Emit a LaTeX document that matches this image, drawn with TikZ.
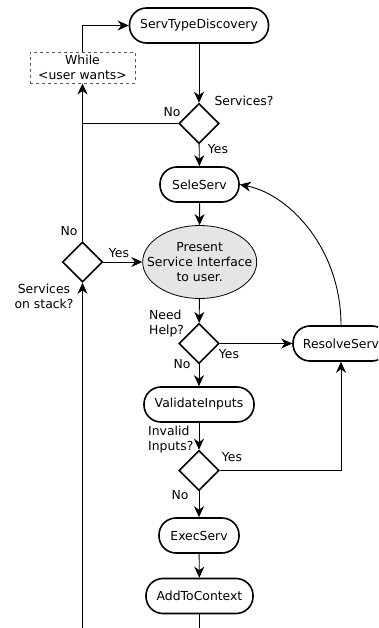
\documentclass[tikz,border=0pt]{standalone}
\usepackage{fontspec}
\setmainfont{DejaVu Sans}
\usetikzlibrary{shapes.geometric,arrows.meta}
\begin{document}
\begin{tikzpicture}[x=1pt,y=-1pt,
  font=\fontsize{12.4}{15}\selectfont,
  every node/.style={inner sep=0pt},
  proc/.style={draw, line width=1.6pt, rectangle, rounded corners=17pt,
    minimum height=35pt, align=center},
  test/.style={draw, line width=1.6pt, diamond, minimum width=40pt,
    minimum height=40pt, inner sep=0pt},
  flow/.style={line width=0.9pt, -{Stealth[length=11pt,width=10pt,inset=3.5pt]}},
  link/.style={line width=0.9pt},
  lbl/.style={inner sep=0pt},
]
\useasboundingbox (0,0) rectangle (378,628);
\clip (0,0) rectangle (378,628);

% process steps
\node[proc, minimum width=139pt] (disc) at (199,25.5) {ServTypeDiscovery};
\node[draw=gray!70!black, dashed, line width=0.9pt, minimum width=105pt,
  minimum height=31pt, align=center] (loop) at (82.5,67.5) {While\\<user wants>};
\node[test] (svc) at (199,123.5) {};
\node[proc, minimum width=79pt] (sel) at (199.5,184.5) {SeleServ};
\node[ellipse, draw, fill=gray!20, line width=0.8pt, inner xsep=-13pt,
  inner ysep=0pt, minimum width=114pt, minimum height=73pt, align=center]
  (pres) at (199.7,262) {Present\\Service Interface\\to user.};
\node[test] (stack) at (82.5,262) {};
\node[test] (help) at (199,343.5) {};
\node[proc, minimum width=96pt] (res) at (341,343.5) {ResolveServ};
\node[proc, minimum width=110pt] (val) at (199,404.5) {ValidateInputs};
\node[test] (inv) at (199,470.5) {};
\node[proc, minimum width=80pt] (exec) at (199,535.5) {ExecServ};
\node[proc, minimum width=107pt] (add) at (199.5,596) {AddToContext};

\coordinate (bot) at (82.5,628);
\coordinate (addend) at (199.5,628);

% connectors
\draw[flow] (loop.north) |- (disc.west);
\draw[flow] (disc) -- (svc);
\draw[link] (svc.west) -- (svc.west -| loop.south);
\draw[flow] (stack.north) -- (loop.south);
\draw[flow] (svc) -- (sel);
\draw[flow] (sel) -- (pres);
\draw[flow] (stack.east) -- (pres.west);
\draw[flow] (bot) -- (stack.south);
\draw[flow] (pres) -- (help);
\draw[flow] (help.east) -- (res.west);
\draw[flow] (help) -- (val);
\draw[flow] (val) -- (inv);
\draw[flow] (inv.east) -| (res.south);
\draw[flow] (inv) -- (exec);
\draw[flow] (exec) -- (add);
\draw[link] (add) -- (addend);
\draw[flow] (res.north) .. controls +(0,-76) and +(50,10) .. (sel.east);

% labels
\node[lbl] (lsvc) at (244,101) {Services?};
\node[lbl] (lno1) at (172,112) {No};
\node[lbl] (lyes1) at (218,149) {Yes};
\node[lbl] (lno2) at (69,231) {No};
\node[lbl] (lyes2) at (119,253) {Yes};
\node[lbl, align=center] (lstack) at (44,296) {Services\\on stack?};
\node[lbl, align=left, anchor=west] (lhelp) at (149,323.5) {Need\\Help?};
\node[lbl] (lyes3) at (229,354) {Yes};
\node[lbl] (lno3) at (182,364) {No};
\node[lbl, align=left, anchor=west] (linv) at (148,440) {Invalid\\Inputs?};
\node[lbl] (lyes4) at (232,457) {Yes};
\node[lbl] (lno4) at (180,495) {No};
\end{tikzpicture}
\end{document}
